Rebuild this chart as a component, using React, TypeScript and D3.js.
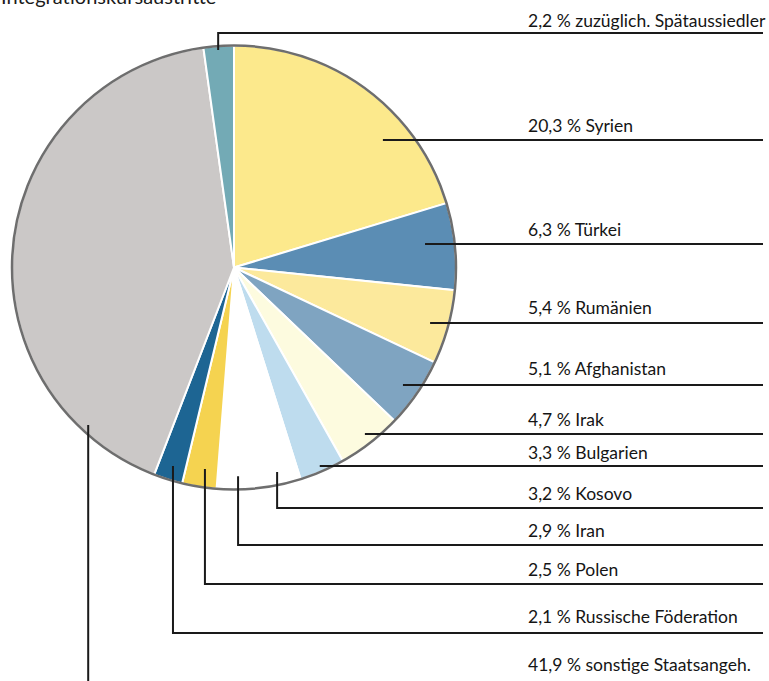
import React from "react";
import * as d3 from "d3";

const title = "Integrationskursaustritte";
const categories = [
  "Syrien",
  "Türkei",
  "Rumänien",
  "Afghanistan",
  "Irak",
  "Bulgarien",
  "Kosovo",
  "Iran",
  "Polen",
  "Russische Föderation",
  "sonstige Staatsangeh.",
  "zuzüglich. Spätaussiedler",
];
const shares = [20.3, 6.3, 5.4, 5.1, 4.7, 3.3, 3.2, 2.9, 2.5, 2.1, 41.9, 2.2];
const colors = [
  "#fce98c",
  "#5b8db4",
  "#fce99c",
  "#7fa4c1",
  "#fdfbdf",
  "#bedcee",
  "#ffffff",
  "#ffffff",
  "#f5d350",
  "#1d6593",
  "#cbc8c7",
  "#73aab5",
];

// leader layout: h = horizontal leader at lineY, tip at radius frac k;
// v = tip at slice mid-angle (+offset deg) and radius k, then down/up to lineY
type Leader = { kind: "h" | "v"; lineY: number; k: number; off?: number; gap?: number };
const leaders: Leader[] = [
  { kind: "h", lineY: 140, k: 0.883 },
  { kind: "h", lineY: 244, k: 0.867 },
  { kind: "h", lineY: 323, k: 0.918, gap: 9 },
  { kind: "h", lineY: 385, k: 0.927, gap: 10 },
  { kind: "h", lineY: 434, k: 0.954 },
  { kind: "h", lineY: 466, k: 0.974, gap: 7 },
  { kind: "v", lineY: 508, k: 0.941, off: -0.2 },
  { kind: "v", lineY: 545, k: 0.94, off: -0.4 },
  { kind: "v", lineY: 584, k: 0.917, off: -0.8 },
  { kind: "v", lineY: 633, k: 0.935, off: -0.2, gap: 10 },
  { kind: "v", lineY: 685, k: 0.967, off: -53.8, gap: 14 },
  { kind: "v", lineY: 33, k: 0.982, off: -0.2, gap: 6 },
];

const W = 769;
const H = 681;
const cx = 234;
const cy = 267.5;
const R = 222;
const textX = 528;
const lineEnd = 763;

const fmt = (v: number) => d3.format(".1f")(v).replace(".", ",") + " %";

export default function App() {
  const pie = d3
    .pie<number>()
    .sort(null)
    .value((d) => d)
    .startAngle(0)
    .endAngle(2 * Math.PI);
  const arcs = pie(shares);
  const arc = d3.arc<d3.PieArcDatum<number>>().innerRadius(0).outerRadius(R);

  const font = "Lato, 'Noto Sans', sans-serif";

  return (
    <svg
      width={W}
      height={H}
      viewBox={`0 0 ${W} ${H}`}
      style={{ position: "absolute", left: 0, top: 0, background: "#fff" }}
    >
      <text x={1} y={4} fontFamily={font} fontSize={20} fill="#1a1a1a">
        {title}
      </text>
      <g transform={`translate(${cx},${cy})`}>
        {arcs.map((a, i) => (
          <path key={i} d={arc(a) || ""} fill={colors[i]} stroke="#fff" strokeWidth={2} />
        ))}
        <circle r={R} fill="none" stroke="#6e6e6e" strokeWidth={2.5} />
      </g>
      {arcs.map((a, i) => {
        const L = leaders[i];
        const r = L.k * R;
        let pts: [number, number][];
        if (L.kind === "h") {
          const dy = L.lineY - cy;
          const tx = cx + Math.sqrt(Math.max(0, r * r - dy * dy));
          pts = [
            [tx, L.lineY],
            [lineEnd, L.lineY],
          ];
        } else {
          const mid = (a.startAngle + a.endAngle) / 2 + ((L.off || 0) * Math.PI) / 180;
          const tx = cx + r * Math.sin(mid);
          const ty = cy - r * Math.cos(mid);
          pts = [
            [tx, ty],
            [tx, L.lineY],
            [lineEnd, L.lineY],
          ];
        }
        const line = d3.line();
        const gap = L.gap ?? 8;
        return (
          <g key={"l" + i}>
            <path d={line(pts) || ""} fill="none" stroke="#1a1a1a" strokeWidth={2} />
            <text x={textX} y={L.lineY - gap} fontFamily={font} fontSize={17.5} fill="#151515">
              {fmt(shares[i]) + " " + categories[i]}
            </text>
          </g>
        );
      })}
    </svg>
  );
}
